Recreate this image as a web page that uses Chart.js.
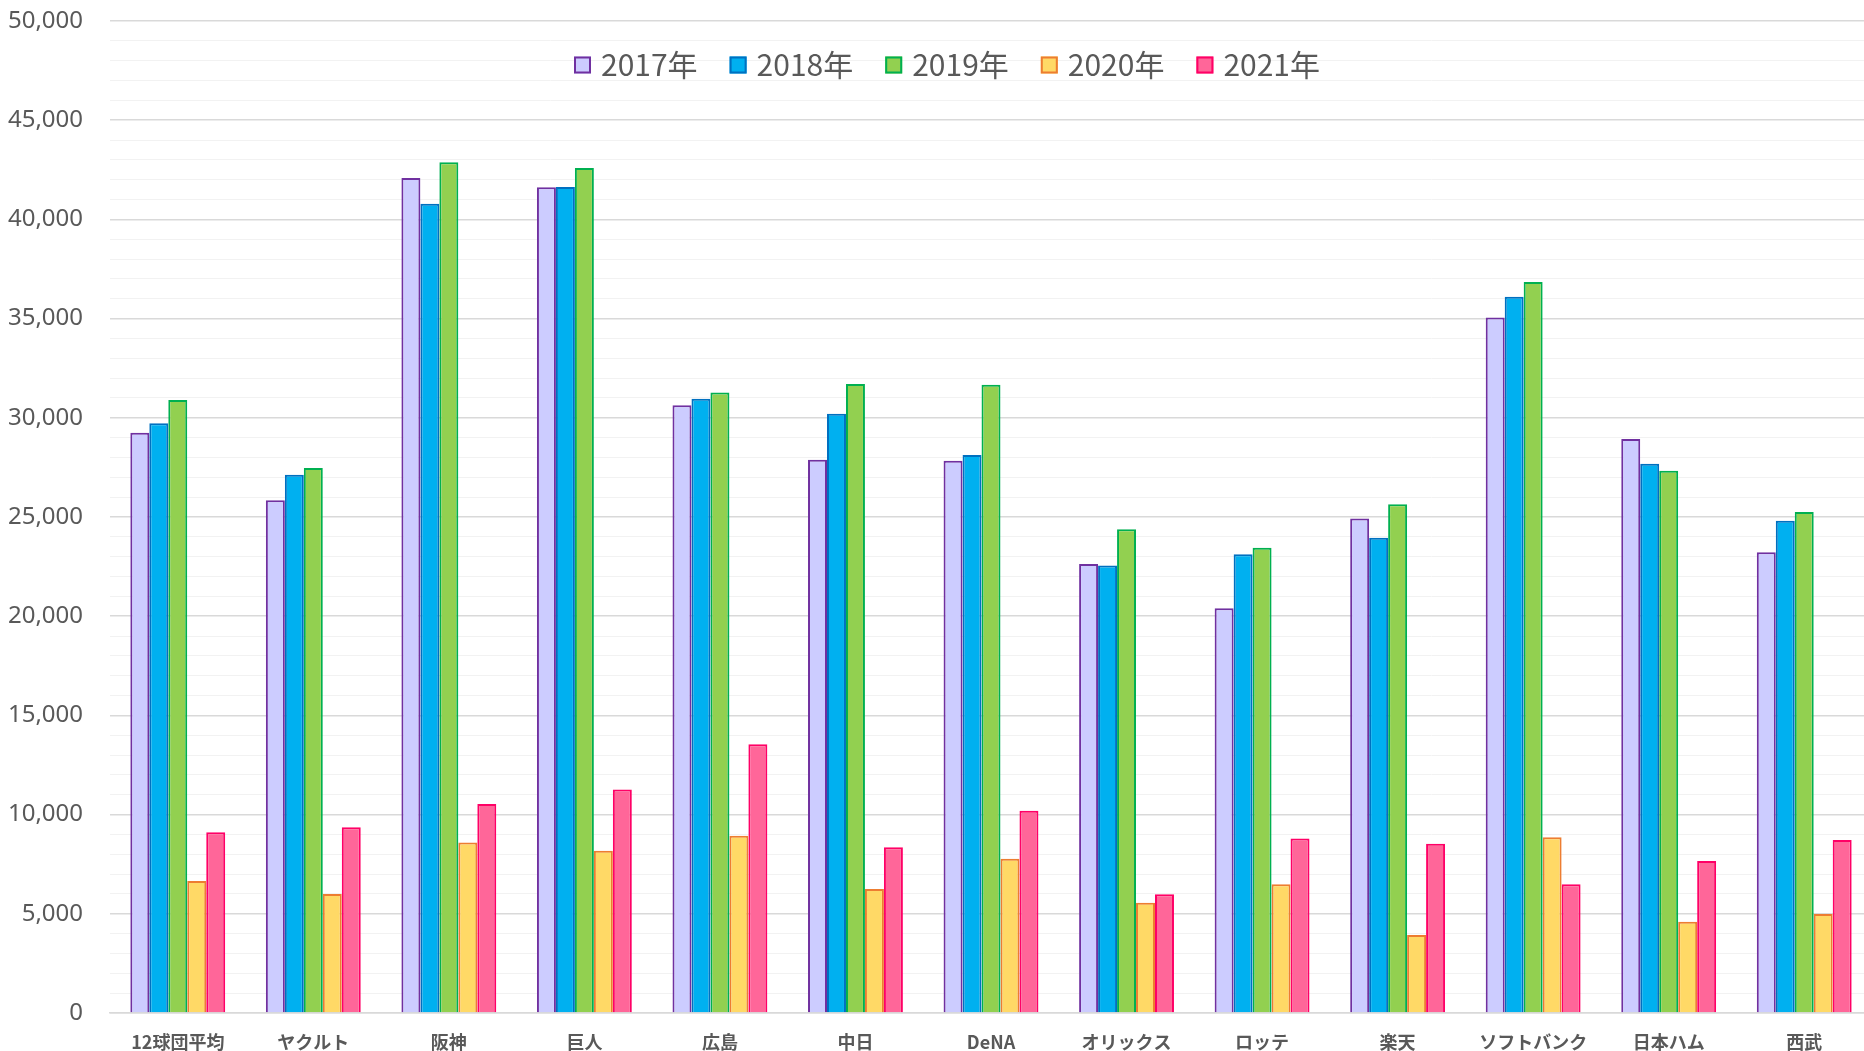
<!DOCTYPE html>
<html lang="ja">
<head>
<meta charset="utf-8">
<title>球団別 観客動員数</title>
<script src="https://cdn.jsdelivr.net/npm/chart.js@4.4.1/dist/chart.umd.min.js"></script>
<style>
  html, body { margin: 0; padding: 0; background: #fff; overflow: hidden; }
  #chart { display: block; }
</style>
</head>
<body>
<canvas id="chart" width="1874" height="1051"></canvas>
<script>
const teams = ['12球団平均', 'ヤクルト', '阪神', '巨人', '広島', '中日', 'DeNA', 'オリックス', 'ロッテ', '楽天', 'ソフトバンク', '日本ハム', '西武'];
const years = ['2017年', '2018年', '2019年', '2020年', '2021年'];

const y2017 = [29250, 25840, 42090, 41620, 30630, 27890, 27840, 22630, 20400, 24930, 35050, 28930, 23220];
const y2018 = [29720, 27130, 40790, 41630, 30960, 30210, 28130, 22550, 23120, 23960, 36100, 27690, 24810];
const y2019 = [30900, 27470, 42880, 42590, 31270, 31700, 31670, 24380, 23450, 25640, 36850, 27330, 25250];
const y2020 = [6650, 6000, 8600, 8180, 8940, 6250, 7780, 5560, 6490, 3930, 8860, 4600, 4990];
const y2021 = [9110, 9360, 10530, 11260, 13540, 8350, 10200, 5980, 8790, 8530, 6490, 7660, 8720];

const yMax = 50000;
const majorStep = 5000;
const minorStep = 1000;

const fills = ['#ccccff', '#00b0f0', '#92d050', '#ffd966', '#ff6699'];
const borders = ['#7030a0', '#0070c0', '#00b050', '#ed7d31', '#ff0066'];
const series = [y2017, y2018, y2019, y2020, y2021];

const textColor = '#595959';

// legend drawn inside the plot area, like the Excel one
const insideLegend = {
  id: 'insideLegend',
  afterDatasetsDraw(chart) {
    const ctx = chart.ctx;
    const font = '30px "Noto Sans CJK JP", "Noto Sans", sans-serif';
    const box = 17, gap = 10, spacing = 32;
    ctx.save();
    ctx.font = font;
    const items = chart.data.datasets.map(ds => ({ ds, w: ctx.measureText(ds.label).width }));
    let total = items.reduce((s, it) => s + box + gap + it.w, 0) + spacing * (items.length - 1);
    let x = 947 - total / 2;
    const cy = 65;
    items.forEach(({ ds, w }) => {
      ctx.fillStyle = ds.backgroundColor;
      ctx.strokeStyle = ds.borderColor;
      ctx.lineWidth = 2;
      ctx.fillRect(x, cy - box / 2, box, box);
      ctx.strokeRect(x + 1, cy - box / 2 + 1, box - 2, box - 2);
      ctx.fillStyle = textColor;
      ctx.textBaseline = 'middle';
      ctx.textAlign = 'left';
      ctx.fillText(ds.label, x + box + gap, cy);
      x += box + gap + w + spacing;
    });
    ctx.restore();
  }
};

new Chart(document.getElementById('chart'), {
  type: 'bar',
  data: {
    labels: teams,
    datasets: years.map((label, i) => ({
      label,
      data: series[i],
      backgroundColor: fills[i],
      borderColor: borders[i],
      borderWidth: 2,
      borderSkipped: 'start',
      barPercentage: 1,
      categoryPercentage: 0.7
    }))
  },
  options: {
    responsive: false,
    devicePixelRatio: 1,
    animation: false,
    layout: { padding: { top: 21, right: 2, left: 0, bottom: 0 } },
    plugins: {
      legend: { display: false },
      title: { display: false },
      tooltip: { enabled: false }
    },
    scales: {
      x: {
        grid: { display: false },
        border: { display: true, color: '#d9d9d9', width: 1.5 },
        ticks: {
          color: textColor,
          padding: 10,
          maxRotation: 0,
          autoSkip: false,
          font: { family: '"Noto Sans CJK JP", "Noto Sans", sans-serif', size: 18, weight: 'bold' }
        },
        afterFit(scale) { scale.height = 38; }
      },
      y: {
        min: 0,
        max: yMax,
        border: { display: false },
        grid: {
          drawTicks: false,
          color: ctx => (ctx.tick && ctx.tick.value % majorStep === 0) ? '#d9d9d9' : '#f2f2f2',
          lineWidth: ctx => (ctx.tick && ctx.tick.value % majorStep === 0) ? 1.5 : 1
        },
        ticks: {
          stepSize: minorStep,
          maxTicksLimit: 100,
          autoSkip: false,
          padding: 27,
          color: textColor,
          font: { family: '"Noto Sans", sans-serif', size: 24 },
          callback: v => v % majorStep === 0 ? v.toLocaleString('en-US') : ''
        },
        afterFit(scale) {
          scale.width = 110;
          // tick padding is only meant to push labels left, not shrink the plot
          scale.paddingTop = 0;
          scale.paddingBottom = 0;
        }
      }
    }
  },
  plugins: [insideLegend]
});
</script>
</body>
</html>
